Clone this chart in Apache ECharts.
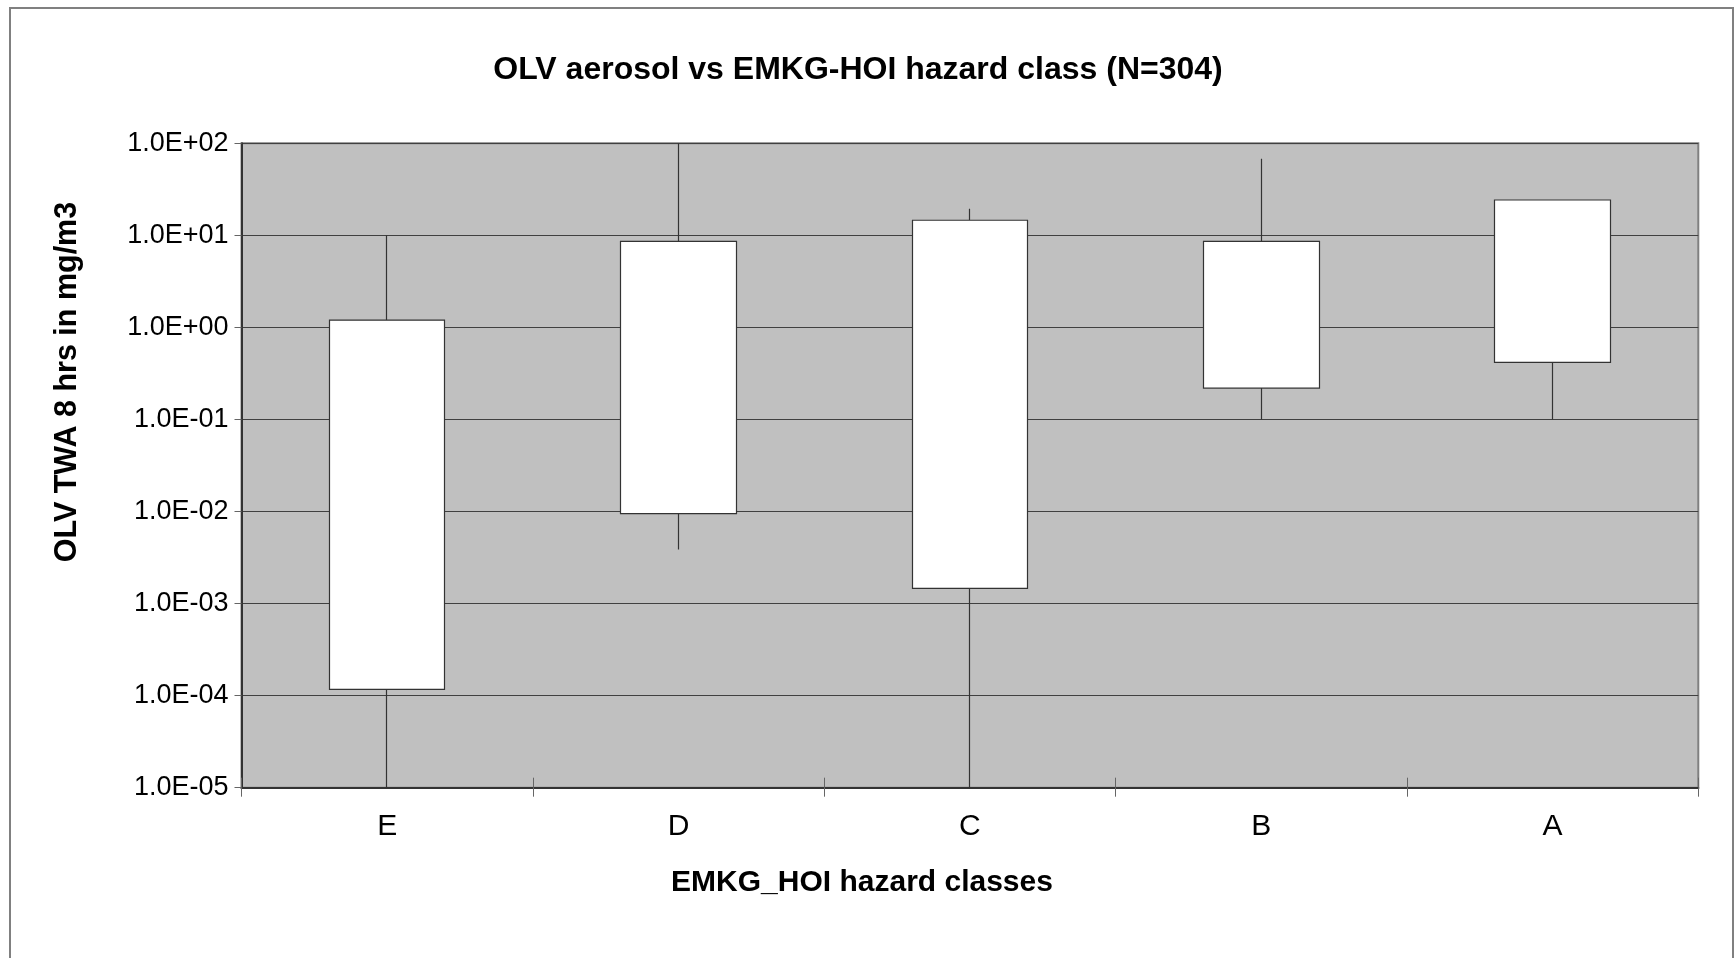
<!DOCTYPE html>
<html>
<head>
<meta charset="utf-8">
<script src="https://cdn.jsdelivr.net/npm/echarts@6/dist/echarts.min.js"></script>
<style>
html,body{margin:0;padding:0;background:#fff;}
#chart{width:1735px;height:958px;}
</style>
</head>
<body>
<div id="chart"></div>
<script>
// ---- data ----
const categories = ['E', 'D', 'C', 'B', 'A'];
const boxLow      = [0.000117, 0.0095, 0.00146, 0.219, 0.418];
const boxHigh     = [1.2, 8.6, 14.6, 8.6, 24.2];
const whiskerLow  = [0.00001, 0.00388, 0.00001, 0.1, 0.1];
const whiskerHigh = [10, 100, 19.5, 68, 24.2];
const yTickLabels = ['1.0E-05', '1.0E-04', '1.0E-03', '1.0E-02', '1.0E-01', '1.0E+00', '1.0E+01', '1.0E+02'];
const titleText = 'OLV aerosol vs EMKG-HOI hazard class (N=304)';
const xTitle = 'EMKG_HOI hazard classes';
const yTitle = 'OLV TWA 8 hrs in mg/m3';

const FONT = "'Liberation Sans', Arial, sans-serif";
const candleData = categories.map((c, i) => [boxLow[i], boxHigh[i], whiskerLow[i], whiskerHigh[i]]);

const chart = echarts.init(document.getElementById('chart'), null, {renderer: 'canvas'});
chart.setOption({
  animation: false,
  backgroundColor: '#ffffff',
  title: {
    text: titleText,
    left: 853, textAlign: 'center', top: 49,
    textStyle: {fontFamily: FONT, fontWeight: 'bold', fontSize: 32, color: '#000'}
  },
  grid: {
    left: 241.5, right: 36.7, top: 143.3, bottom: 170.3,
    show: true, backgroundColor: '#c0c0c0', borderColor: '#808080', borderWidth: 2
  },
  xAxis: [{
    type: 'category', data: categories, boundaryGap: true,
    axisLine: {show: true, lineStyle: {color: '#333', width: 2}},
    axisTick: {show: true, inside: false, length: 9, lineStyle: {color: '#666', width: 1}},
    axisLabel: {fontFamily: FONT, fontSize: 30, color: '#000', margin: 24},
    splitLine: {show: false}
  }, {
    type: 'category', data: categories, boundaryGap: true, position: 'bottom',
    axisLine: {show: false},
    axisTick: {show: true, inside: true, length: 10, lineStyle: {color: '#666', width: 1}},
    axisLabel: {show: false},
    splitLine: {show: false}
  }],
  yAxis: {
    type: 'log', logBase: 10, min: 0.00001, max: 100, splitNumber: 7,
    axisLine: {show: true, lineStyle: {color: '#333', width: 2}},
    axisTick: {show: true, length: 7, lineStyle: {color: '#666', width: 1}},
    axisLabel: {
      fontFamily: FONT, fontSize: 27, color: '#000', margin: 13,
      formatter: v => yTickLabels[Math.round(Math.log10(v)) + 5]
    },
    splitLine: {show: true, lineStyle: {color: '#404040', width: 1.2}}
  },
  graphic: [
    {type: 'rect', shape: {x: 10, y: 8, width: 1723, height: 980}, style: {fill: 'none', stroke: '#808080', lineWidth: 2}, z: -1},
    {type: 'text', x: 862, y: 883, style: {text: xTitle, font: "bold 30px 'Liberation Sans', Arial, sans-serif", fill: '#000', textAlign: 'center', textVerticalAlign: 'middle'}},
    {type: 'text', x: 67.5, y: 382, rotation: Math.PI / 2, style: {text: yTitle, font: "bold 30.5px 'Liberation Sans', Arial, sans-serif", fill: '#000', textAlign: 'center', textVerticalAlign: 'middle'}}
  ],
  series: [{
    type: 'candlestick',
    xAxisIndex: 0,
    data: candleData,
    barWidth: 116,
    itemStyle: {color: '#ffffff', color0: '#ffffff', borderColor: '#333333', borderColor0: '#333333', borderWidth: 1.2}
  }]
});
</script>
</body>
</html>
